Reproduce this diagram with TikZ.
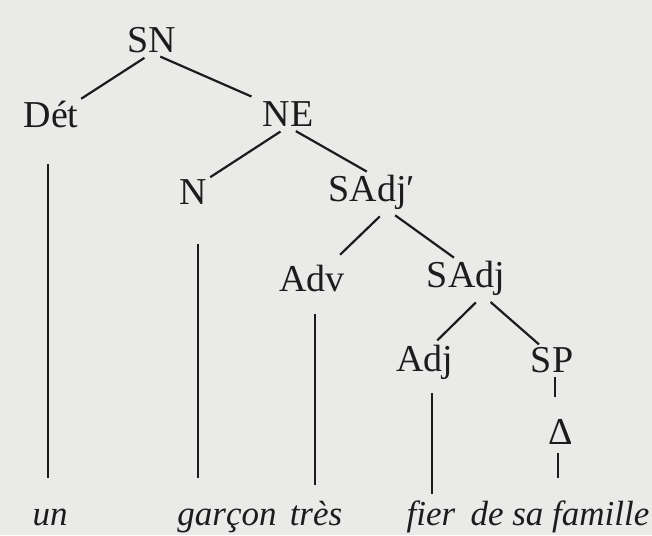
\documentclass[tikz,border=0pt]{standalone}
\usepackage{fontspec}
\setmainfont{Liberation Serif}
\definecolor{paper}{RGB}{234,234,232}
\definecolor{ink}{RGB}{28,28,28}
\begin{document}
\begin{tikzpicture}[x=1pt,y=-1pt,
  lab/.style={inner sep=0pt,font=\fontsize{38}{40}\selectfont,text=ink},
  word/.style={inner sep=0pt,anchor=base,font=\fontsize{35}{40}\selectfont\itshape,text=ink},
  edge/.style={draw=ink,line width=2.2pt}]
\fill[paper] (0,0) rectangle (652,535);
\useasboundingbox (0,0) rectangle (652,535);
% labels
\node[lab] (SN) at (152,40) {SN};
\node[lab] (Det) at (51,114) {Dét};
\node[lab] (NE) at (288,114) {NE};
\node[lab] (N) at (193,192) {N};
\node[lab] (SAdjp) at (372,192) {SAdj′};
\node[lab] (Adv) at (312,278) {Adv};
\node[lab] (SAdj) at (466,278) {SAdj};
\node[lab] (Adj) at (425,362) {Adj};
\node[lab] (SP) at (552,360) {SP};
\node[lab] (Delta) at (561,432) {Δ};
% words
\node[word] (un) at (50,525) {un};
\node[word] (garcon) at (227,525) {garçon};
\node[word] (tres) at (316,525) {très};
\node[word] (fier) at (431,525) {fier};
\node[word] (famille) at (560,525) {de sa famille};
% branches
\draw[edge,shorten <=9pt,shorten >=3pt] (SN.south) -- (Det.north east);
\draw[edge,shorten <=9pt,shorten >=12pt] (SN.south) -- (NE.north west);
\draw[edge,shorten <=9pt,shorten >=4pt] (NE.south) -- (N.north east);
\draw[edge,shorten <=9pt,shorten >=6pt] (NE.south) -- (SAdjp.north);
\draw[edge,shorten <=10pt,shorten >=14pt] ([xshift=15pt]SAdjp.south) -- ([xshift=18pt]Adv.north);
\draw[edge,shorten <=10pt,shorten >=5pt] ([xshift=15pt]SAdjp.south) -- ([xshift=-8pt]SAdj.north);
\draw[edge,shorten <=10pt,shorten >=6pt] ([xshift=17pt]SAdj.south) -- ([xshift=8pt]Adj.north);
\draw[edge,shorten <=10pt,shorten >=4pt] ([xshift=17pt]SAdj.south) -- ([xshift=-10pt]SP.north);
% vertical lines
\draw[edge,shorten <=36pt,shorten >=30pt] ([xshift=-3pt]Det.south) -- ([xshift=-3pt]Det.south |- un.north);
\draw[edge,shorten <=39pt,shorten >=30pt] ([xshift=5pt]N.south) -- ([xshift=5pt]N.south |- garcon.north);
\draw[edge,shorten <=22pt,shorten >=15pt] ([xshift=3pt]Adv.south) -- ([xshift=3pt]Adv.south |- tres.north);
\draw[edge,shorten <=14pt,shorten >=6pt] ([xshift=7pt]Adj.south) -- ([xshift=7pt]Adj.south |- fier.north);
\draw[edge,shorten <=4pt,shorten >=22pt] ([xshift=3pt]SP.south) -- ([xshift=3pt]SP.south |- Delta.north);
\draw[edge,shorten <=8pt,shorten >=22pt] ([xshift=-3pt]Delta.south) -- ([xshift=-3pt]Delta.south |- famille.north);
\end{tikzpicture}
\end{document}
